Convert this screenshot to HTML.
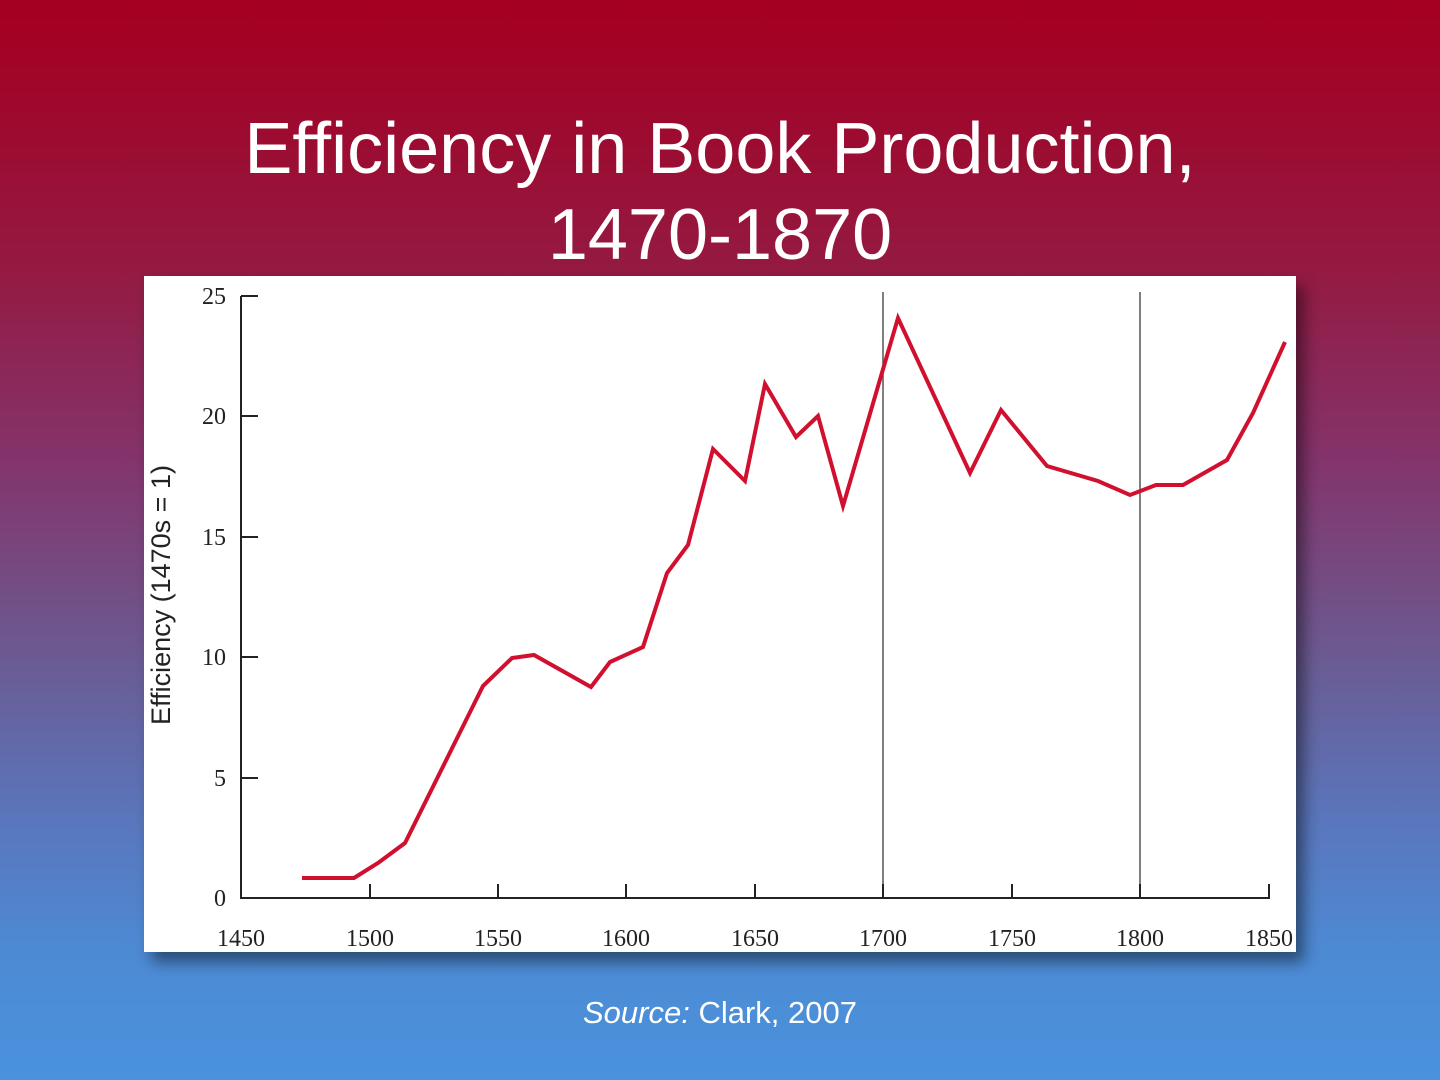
<!DOCTYPE html>
<html><head><meta charset="utf-8"><style>
html,body{margin:0;padding:0}
body{width:1440px;height:1080px;overflow:hidden;position:relative;font-family:"Liberation Sans",sans-serif;
background:linear-gradient(to bottom,#a50020 0%,#a0062a 8%,#941a42 25%,#84336a 42%,#6c5990 60%,#5a76bc 76%,#4d8ad4 88%,#4a92dc 100%);}
.title{position:absolute;left:0;width:1440px;top:106px;text-align:center;color:#fff;font-size:72px;line-height:86px;}
.box{position:absolute;left:144px;top:276px;width:1152px;height:676px;background:#fff;box-shadow:8px 10px 14px rgba(0,0,0,0.45);}
.src{position:absolute;left:0;width:1440px;top:995px;text-align:center;color:#fff;font-size:31px;}
</style></head><body>
<div class="title">Efficiency in Book Production,<br>1470-1870</div>
<div class="box"></div>
<svg style="position:absolute;left:0;top:0" width="1440" height="1080">
<g stroke="#555" stroke-width="1.5"><line x1="883" y1="292" x2="883" y2="898"/><line x1="1140" y1="292" x2="1140" y2="898"/></g>
<g stroke="#222" stroke-width="2" fill="none">
<path d="M241 296 V898 H1269 V884"/>
<line x1="241" y1="296" x2="258" y2="296"/><line x1="241" y1="416" x2="258" y2="416"/><line x1="241" y1="537" x2="258" y2="537"/><line x1="241" y1="657" x2="258" y2="657"/><line x1="241" y1="778" x2="258" y2="778"/>
<line x1="370" y1="898" x2="370" y2="884"/><line x1="498" y1="898" x2="498" y2="884"/><line x1="626" y1="898" x2="626" y2="884"/><line x1="755" y1="898" x2="755" y2="884"/><line x1="883" y1="898" x2="883" y2="884"/><line x1="1012" y1="898" x2="1012" y2="884"/><line x1="1140" y1="898" x2="1140" y2="884"/>
</g>
<g font-family="Liberation Serif,serif" font-size="24" fill="#222" text-anchor="end">
<text x="226" y="304">25</text><text x="226" y="424">20</text><text x="226" y="545">15</text><text x="226" y="665">10</text><text x="226" y="786">5</text><text x="226" y="906">0</text>
</g>
<g font-family="Liberation Serif,serif" font-size="24" fill="#222" text-anchor="middle">
<text x="241" y="946">1450</text><text x="370" y="946">1500</text><text x="498" y="946">1550</text><text x="626" y="946">1600</text><text x="755" y="946">1650</text><text x="883" y="946">1700</text><text x="1012" y="946">1750</text><text x="1140" y="946">1800</text><text x="1269" y="946">1850</text>
</g>
<text transform="translate(170,595) rotate(-90)" font-family="Liberation Sans,sans-serif" font-size="27" fill="#222" text-anchor="middle">Efficiency (1470s = 1)</text>
<polyline fill="none" stroke="#d0102e" stroke-width="4" stroke-linejoin="miter" points="302,878 354,878 378,863 405,843 483,686 512,658 534,655 591,687 610,662 643,647 667,573 688,545 713,449 745,481 765,384 796,437 818,416 843,506 898,318 970,473 1001,410 1047,466 1098,481 1130,495 1156,485 1183,485 1227,460 1253,413 1285,342"/>
</svg>
<div class="src"><i>Source:</i> Clark, 2007</div>
</body></html>
